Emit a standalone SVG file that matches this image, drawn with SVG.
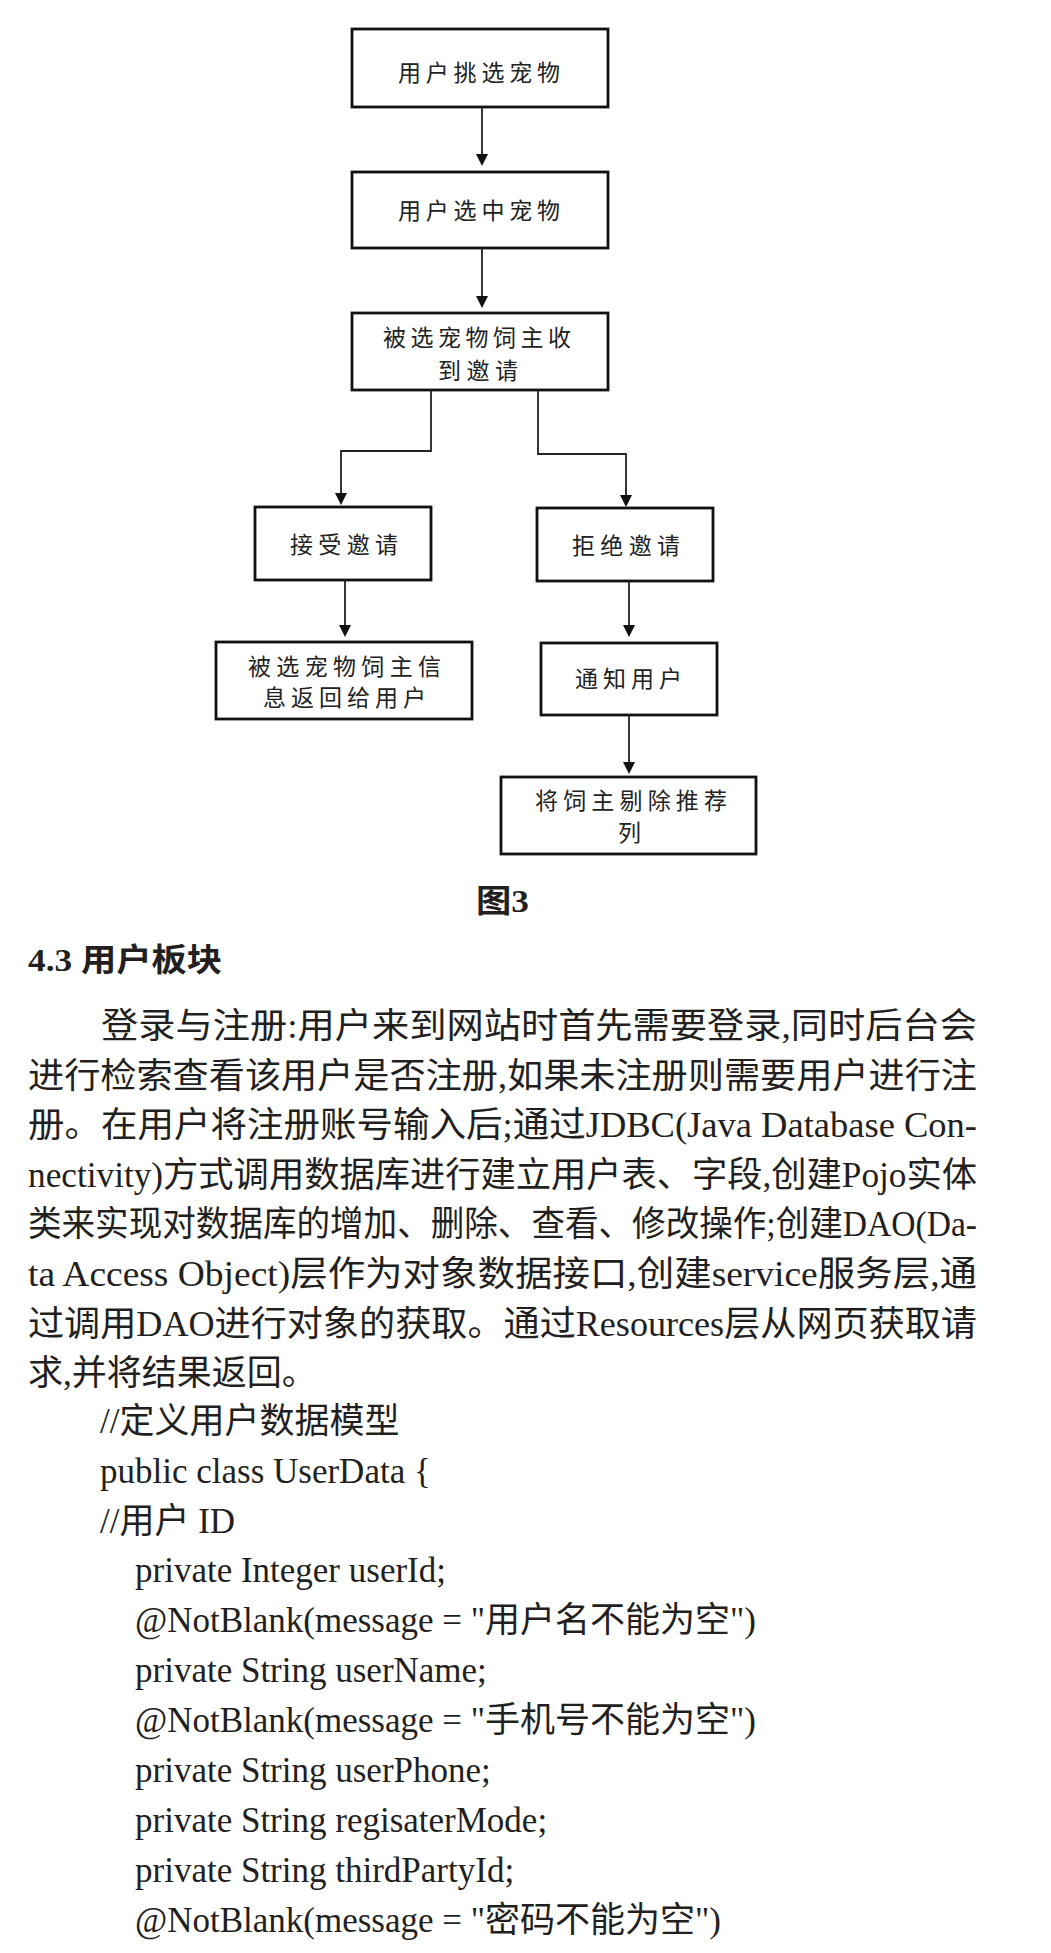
<svg xmlns="http://www.w3.org/2000/svg" width="1051" height="1953" viewBox="0 0 1051 1953">
<style>
.box{fill:#fff;stroke:#111;stroke-width:2.8}
.bt{font-family:"Noto Sans CJK SC","Noto Sans",sans-serif;font-size:23px;fill:#222}
.ln{fill:none;stroke:#222;stroke-width:1.8}
.p{font-family:"Liberation Serif","Noto Sans CJK SC",serif;font-size:35px;fill:#231f20}
.h{font-family:"Liberation Serif","Noto Sans CJK SC",serif;font-size:32px;font-weight:bold;fill:#231f20}
</style>
<defs>
<marker id="ah" markerUnits="userSpaceOnUse" viewBox="0 0 12 12" refX="6" refY="6" markerWidth="12" markerHeight="12" orient="auto">
<path d="M0,0 L12,6 L0,12 z" fill="#111"/>
</marker>
</defs>
<rect width="1051" height="1953" fill="#fff"/>

<g id="n1"><rect class="box" x="352" y="29" width="256" height="78"/><text class="bt" x="398" y="81" textLength="162" lengthAdjust="spacing">用户挑选宠物</text></g>
<g id="n2"><rect class="box" x="352" y="172" width="256" height="76"/><text class="bt" x="398" y="219" textLength="162" lengthAdjust="spacing">用户选中宠物</text></g>
<g id="n3"><rect class="box" x="352" y="313" width="256" height="77"/><text class="bt" x="383" y="346" textLength="188" lengthAdjust="spacing">被选宠物饲主收</text><text class="bt" x="438" y="379" textLength="80" lengthAdjust="spacing">到邀请</text></g>
<g id="n4"><rect class="box" x="255" y="507" width="176" height="73"/><text class="bt" x="290" y="553" textLength="108" lengthAdjust="spacing">接受邀请</text></g>
<g id="n5"><rect class="box" x="537" y="508" width="176" height="73"/><text class="bt" x="572" y="554" textLength="108" lengthAdjust="spacing">拒绝邀请</text></g>
<g id="n6"><rect class="box" x="216" y="642" width="256" height="77"/><text class="bt" x="248" y="675" textLength="193" lengthAdjust="spacing">被选宠物饲主信</text><text class="bt" x="263" y="706" textLength="163" lengthAdjust="spacing">息返回给用户</text></g>
<g id="n7"><rect class="box" x="541" y="643" width="176" height="72"/><text class="bt" x="575" y="687" textLength="107" lengthAdjust="spacing">通知用户</text></g>
<g id="n8"><rect class="box" x="501" y="777" width="255" height="77"/><text class="bt" x="535" y="809" textLength="192" lengthAdjust="spacing">将饲主剔除推荐</text><text class="bt" x="618" y="841">列</text></g>

<g id="connectors">
<path class="ln" d="M482,107 V160" marker-end="url(#ah)"/>
<path class="ln" d="M482,248 V302" marker-end="url(#ah)"/>
<path class="ln" d="M431,390 V451 H341 V499" marker-end="url(#ah)"/>
<path class="ln" d="M538,390 V454 H626 V501" marker-end="url(#ah)"/>
<path class="ln" d="M345,580 V631" marker-end="url(#ah)"/>
<path class="ln" d="M629,581 V631" marker-end="url(#ah)"/>
<path class="ln" d="M629,715 V768" marker-end="url(#ah)"/>
</g>

<g id="body">
<text class="h" x="476" y="912" textLength="53" lengthAdjust="spacingAndGlyphs">图3</text>
<text class="h" x="28" y="971" textLength="194" lengthAdjust="spacingAndGlyphs">4.3 用户板块</text>
<text class="p" x="101" y="1038" textLength="876" lengthAdjust="spacingAndGlyphs">登录与注册:用户来到网站时首先需要登录,同时后台会</text>
<text class="p" x="28" y="1087.6" textLength="949" lengthAdjust="spacingAndGlyphs">进行检索查看该用户是否注册,如果未注册则需要用户进行注</text>
<text class="p" x="28" y="1137.2" textLength="949" lengthAdjust="spacingAndGlyphs">册。在用户将注册账号输入后;通过JDBC(Java Database Con-</text>
<text class="p" x="28" y="1186.8" textLength="949" lengthAdjust="spacingAndGlyphs">nectivity)方式调用数据库进行建立用户表、字段,创建Pojo实体</text>
<text class="p" x="28" y="1236.4" textLength="949" lengthAdjust="spacingAndGlyphs">类来实现对数据库的增加、删除、查看、修改操作;创建DAO(Da-</text>
<text class="p" x="28" y="1286" textLength="949" lengthAdjust="spacingAndGlyphs">ta Access Object)层作为对象数据接口,创建service服务层,通</text>
<text class="p" x="28" y="1335.6" textLength="949" lengthAdjust="spacingAndGlyphs">过调用DAO进行对象的获取。通过Resources层从网页获取请</text>
<text class="p" x="28" y="1385.2">求,并将结果返回。</text>
<text class="p" x="100" y="1433">//定义用户数据模型</text>
<text class="p" x="100" y="1483">public class UserData {</text>
<text class="p" x="100" y="1533">//用户 ID</text>
<text class="p" x="135" y="1582">private Integer userId;</text>
<text class="p" x="135" y="1632">@NotBlank(message = "用户名不能为空")</text>
<text class="p" x="135" y="1682">private String userName;</text>
<text class="p" x="135" y="1732">@NotBlank(message = "手机号不能为空")</text>
<text class="p" x="135" y="1782">private String userPhone;</text>
<text class="p" x="135" y="1832">private String regisaterMode;</text>
<text class="p" x="135" y="1882">private String thirdPartyId;</text>
<text class="p" x="135" y="1932">@NotBlank(message = "密码不能为空")</text>
</g>
</svg>
